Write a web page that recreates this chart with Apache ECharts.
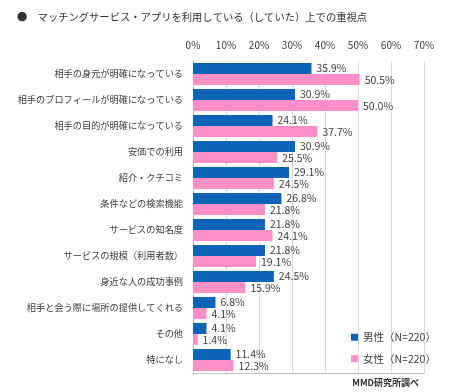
<!DOCTYPE html>
<html><head><meta charset="utf-8">
<script src="https://cdn.jsdelivr.net/npm/echarts@6/dist/echarts.min.js"></script>
<style>html,body{margin:0;padding:0;background:#fff}#c{width:452px;height:392px}</style>
</head><body><div id="c"></div>
<script>
var categories = ['相手の身元が明確になっている','相手のプロフィールが明確になっている','相手の目的が明確になっている','安価での利用','紹介・クチコミ','条件などの検索機能','サービスの知名度','サービスの規模（利用者数）','身近な人の成功事例','相手と会う際に場所の提供してくれる','その他','特になし'];
var male = [35.9,30.9,24.1,30.9,29.1,26.8,21.8,21.8,24.5,6.8,4.1,11.4];
var female = [50.5,50.0,37.7,25.5,24.5,21.8,24.1,19.1,15.9,4.1,1.4,12.3];
var seriesNames = ['男性（N=220）','女性（N=220）'];
var titleText = '●　マッチングサービス・アプリを利用している（していた）上での重視点';
var sourceText = 'MMD研究所調べ';

var FONT = '"Noto Sans CJK JP","Noto Sans",sans-serif';
var chart = echarts.init(document.getElementById('c'));
var lbl = {show:true,position:'right',distance:5,formatter:function(p){return p.value.toFixed(1)+'%';},color:'#404040',fontSize:10.5,fontFamily:FONT};
chart.setOption({
  animation:false,
  textStyle:{fontFamily:FONT},
  title:[{text:titleText,left:12,top:7,textStyle:{fontSize:10.3,fontWeight:'normal',color:'#333',fontFamily:FONT}},
         {text:sourceText,right:28,top:373,textStyle:{fontSize:9,fontWeight:'bold',color:'#333',fontFamily:FONT}}],
  legend:{orient:'vertical',left:346,top:327,itemWidth:7,itemHeight:7,itemGap:11,icon:'rect',
    textStyle:{fontSize:10.5,color:'#404040',fontFamily:FONT},data:seriesNames},
  grid:{left:193,width:231,top:61,height:312},
  xAxis:[{type:'value',position:'top',min:0,max:70,interval:10,
    axisLabel:{formatter:'{value}%',color:'#404040',fontSize:10,margin:11,fontFamily:FONT},
    axisLine:{show:false},axisTick:{show:false},
    splitLine:{show:true,lineStyle:{color:'#d9d9d9',width:1}}},
   {type:'value',position:'bottom',min:0,max:70,interval:10,
    axisLabel:{show:false},axisTick:{show:false},splitLine:{show:false},
    axisLine:{show:true,lineStyle:{color:'#bfbfbf'}}}],
  yAxis:{type:'category',inverse:true,data:categories,
    axisLabel:{color:'#404040',fontSize:9.2,margin:10,fontFamily:FONT},
    axisTick:{show:false},axisLine:{show:true,lineStyle:{color:'#bfbfbf'}}},
  series:[
    {name:seriesNames[0],type:'bar',data:male,itemStyle:{color:'#0b64b8'},barGap:'0%',barCategoryGap:'15%',label:lbl},
    {name:seriesNames[1],type:'bar',data:female,itemStyle:{color:'#ff8fc8'},barGap:'0%',barCategoryGap:'15%',label:lbl}
  ]
});
</script></body></html>
